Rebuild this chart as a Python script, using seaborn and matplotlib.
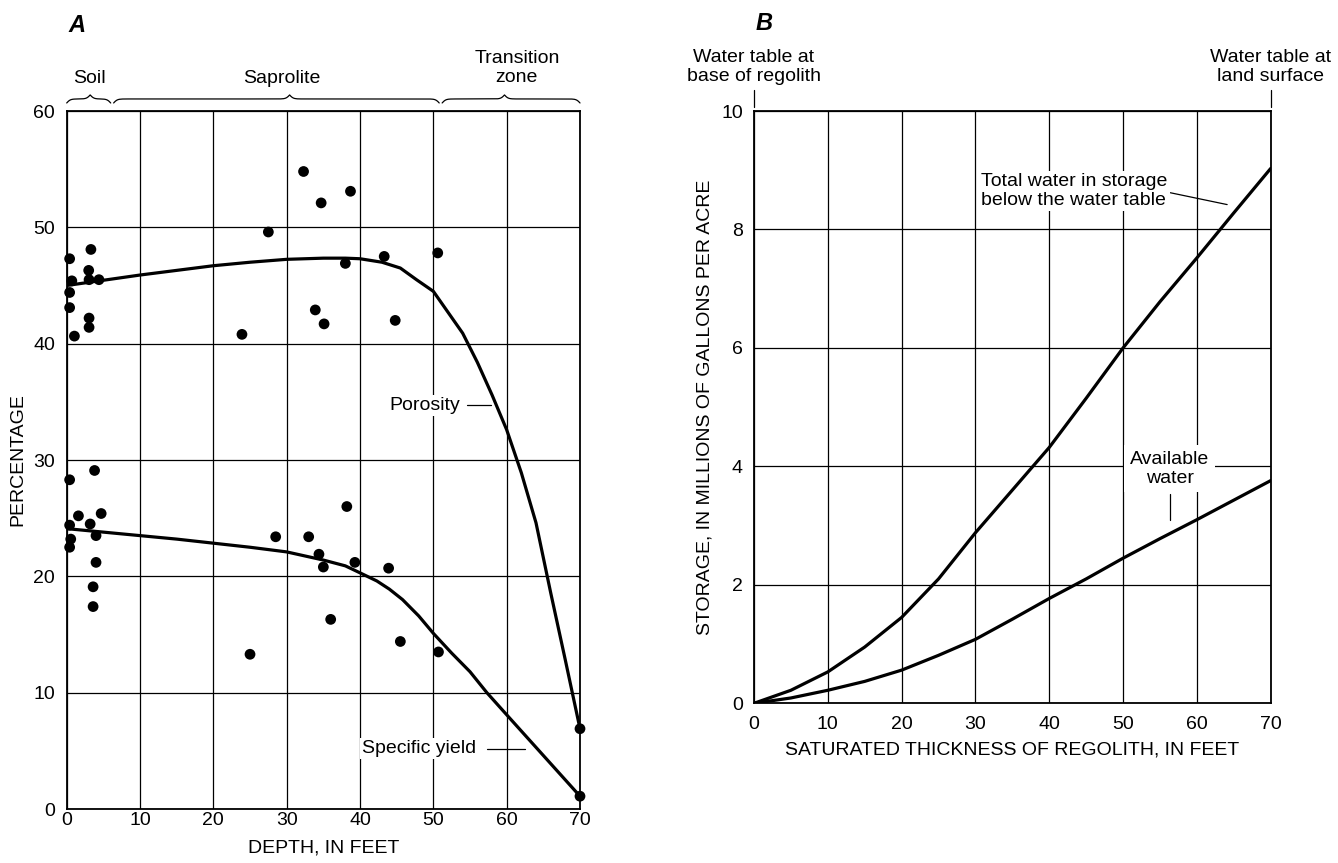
import numpy as np
import pandas as pd
import matplotlib
matplotlib.use("Agg")
import matplotlib.pyplot as plt
import matplotlib.transforms as mtransforms
import seaborn as sns

# ---------------- Panel A data ----------------
por_depth = [0.4, 3.3, 3.0, 0.7, 3.05, 4.4, 0.4, 0.4, 3.05, 3.05, 1.05, 23.9, 27.5,
             32.3, 34.7, 38.7, 33.9, 35.1, 38.0, 43.3, 44.8, 50.6, 70.0]
por_pct = [47.3, 48.1, 46.3, 45.4, 45.5, 45.5, 44.4, 43.1, 42.2, 41.4, 40.65, 40.8, 49.6,
           54.8, 52.1, 53.1, 42.9, 41.7, 46.9, 47.5, 42.0, 47.8, 6.9]

sy_depth = [0.4, 3.8, 1.6, 4.7, 0.4, 3.2, 4.0, 0.55, 0.4, 4.0, 3.6, 3.6, 25.0, 28.5,
            33.0, 38.2, 34.4, 35.0, 39.3, 43.9, 36.0, 45.5, 50.7, 70.0]
sy_pct = [28.3, 29.1, 25.2, 25.4, 24.4, 24.5, 23.5, 23.2, 22.5, 21.2, 19.1, 17.4, 13.3, 23.4,
          23.4, 26.0, 21.9, 20.8, 21.2, 20.7, 16.3, 14.4, 13.5, 1.1]

por_curve_depth = [0, 5, 10, 15, 20, 25, 30, 35, 38, 40, 43, 45.5, 47.7, 50, 52, 54, 56,
                   58, 60, 62, 64, 66, 68, 70]
por_curve_pct = [45.0, 45.45, 45.9, 46.3, 46.7, 47.0, 47.25, 47.35, 47.35, 47.3, 47.0, 46.5,
                 45.5, 44.5, 42.7, 40.9, 38.4, 35.6, 32.6, 28.9, 24.6, 18.6, 12.8, 6.9]

sy_curve_depth = [0, 5, 10, 15, 20, 25, 30, 35, 38, 40, 42.3, 44, 45.8, 48, 50, 52.5, 55,
                  57.3, 60, 65, 70]
sy_curve_pct = [24.1, 23.8, 23.5, 23.2, 22.85, 22.5, 22.1, 21.4, 20.9, 20.3, 19.6, 18.9,
                18.0, 16.6, 15.1, 13.4, 11.8, 10.0, 8.1, 4.6, 1.1]

depth_ticks = [0, 10, 20, 30, 40, 50, 60, 70]
pct_ticks = [0, 10, 20, 30, 40, 50, 60]

zone_names = ["Soil", "Saprolite", "Transition\nzone"]
zone_start = [0.0, 6.4, 51.2]
zone_tip = [3.2, 30.4, 59.7]
zone_end = [6.0, 50.8, 70.0]
zone_label_x = [3.1, 29.4, 61.4]

# ---------------- Panel B data ----------------
thick = [0, 5, 10, 15, 20, 25, 30, 35, 40, 45, 50, 55, 60, 65, 70]
total_storage = [0, 0.22, 0.53, 0.95, 1.45, 2.1, 2.88, 3.6, 4.32, 5.15, 6.0, 6.78, 7.52, 8.28, 9.03]
available_storage = [0, 0.09, 0.22, 0.37, 0.56, 0.81, 1.08, 1.42, 1.77, 2.1, 2.45, 2.78, 3.1, 3.43, 3.76]
thick_ticks = [0, 10, 20, 30, 40, 50, 60, 70]
storage_ticks = [0, 2, 4, 6, 8, 10]

# ---------------- Style ----------------
sns.set_style("white")
plt.rcParams['font.family'] = ['Liberation Sans', 'DejaVu Sans']
plt.rcParams['text.color'] = 'black'
plt.rcParams['axes.labelcolor'] = 'black'
plt.rcParams['xtick.color'] = 'black'
plt.rcParams['ytick.color'] = 'black'
plt.rcParams['axes.linewidth'] = 1.3
FS = 14
TFS = 14
LS = 1.17

W, H = 1338, 863
fig = plt.figure(figsize=(W / 100, H / 100), dpi=100)

axA = fig.add_axes([66.7 / W, 1 - 809 / H, (580 - 66.7) / W, (809 - 111) / H])
axB = fig.add_axes([754 / W, 1 - 703.3 / H, (1270.7 - 754) / W, (703.3 - 111) / H])

LINE_KW = dict(color='black', linewidth=2.3, estimator=None, sort=False)


def style_axes(ax, xticks, yticks, xpad, ypad):
    ax.set_axisbelow(True)
    ax.set_xticks(xticks)
    ax.set_yticks(yticks)
    ax.grid(True, color='black', linewidth=0.9)
    ax.tick_params(axis='both', length=0, labelsize=TFS, colors='black', labelcolor='black')
    ax.tick_params(axis='x', pad=xpad)
    ax.tick_params(axis='y', pad=ypad)
    for s in ax.spines.values():
        s.set_visible(True)
        s.set_color('black')
        s.set_linewidth(1.3)


# ---------------- Panel A ----------------
sns.lineplot(x=por_curve_depth, y=por_curve_pct, ax=axA, **LINE_KW)
sns.lineplot(x=sy_curve_depth, y=sy_curve_pct, ax=axA, **LINE_KW)
sns.scatterplot(x=por_depth, y=por_pct, ax=axA, color='black', s=60, edgecolor='none', zorder=4)
sns.scatterplot(x=sy_depth, y=sy_pct, ax=axA, color='black', s=60, edgecolor='none', zorder=4)
for c in axA.collections:
    c.set_clip_on(False)
axA.set_xlim(0, 70)
axA.set_ylim(0, 60)
style_axes(axA, depth_ticks, pct_ticks, xpad=2.5, ypad=8.5)
axA.set_xlabel("DEPTH, IN FEET", fontsize=FS, color='black')
axA.set_ylabel("PERCENTAGE", fontsize=FS, color='black')
axA.xaxis.set_label_coords(0.5, -0.056)
axA.xaxis.label.set_va('center')
axA.yaxis.set_label_coords(-0.095, 0.5)
axA.yaxis.label.set_va('center')

bbox_w = dict(facecolor='white', edgecolor='none', pad=1.5)
axA.text(53.6, 34.7, "Porosity", ha='right', va='center', fontsize=FS, bbox=bbox_w, zorder=3)
axA.plot([54.6, 57.8], [34.7, 34.7], color='black', lw=0.9)
axA.text(55.9, 5.2, "Specific yield", ha='right', va='center', fontsize=FS, bbox=bbox_w, zorder=3)
axA.plot([57.3, 62.5], [5.2, 5.2], color='black', lw=0.9)

# braces above panel A
transA = mtransforms.blended_transform_factory(axA.transData, axA.transAxes)


def brace_half(a, b, beta=4.0, n=120):
    x = np.linspace(a, b, n)
    v = 1 / (1 + np.exp(-beta * (x - a))) + 1 / (1 + np.exp(-beta * (x - b)))
    return x, v


for name, x0, xt, x1, lx in zip(zone_names, zone_start, zone_tip, zone_end, zone_label_x):
    xl, vl = brace_half(x0, xt)
    xr, vr = brace_half(xt, x1)
    vr = 2 - vr
    xs = np.concatenate([xl, xr])
    vs = np.concatenate([vl, vr])
    ys = 1.0115 + (vs - 0.5) * 0.0115
    axA.plot(xs, ys, color='black', lw=0.9, transform=transA, clip_on=False)
    ycen = 1.0616 if "\n" in name else 1.047
    axA.text(lx, ycen, name, transform=transA, ha='center', va='center',
             multialignment='center', fontsize=FS, linespacing=LS)

fig.text(77 / W, 1 - 25 / H, "A", fontsize=17, fontweight='bold', fontstyle='italic',
         ha='center', va='center')

# ---------------- Panel B ----------------
sns.lineplot(x=thick, y=total_storage, ax=axB, **LINE_KW)
sns.lineplot(x=thick, y=available_storage, ax=axB, **LINE_KW)
axB.set_xlim(0, 70)
axB.set_ylim(0, 10)
style_axes(axB, thick_ticks, storage_ticks, xpad=9.5, ypad=8)
axB.set_xlabel("SATURATED THICKNESS OF REGOLITH, IN FEET", fontsize=FS, color='black')
axB.set_ylabel("STORAGE, IN MILLIONS OF GALLONS PER ACRE", fontsize=FS, color='black')
axB.xaxis.set_label_coords(0.5, -0.0787)
axB.xaxis.label.set_va('center')
axB.yaxis.set_label_coords(-0.095, 0.5)
axB.yaxis.label.set_va('center')

axB.text(43.4, 8.65, "Total water in storage\nbelow the water table", ha='center', va='center',
         multialignment='left', fontsize=FS, bbox=bbox_w, zorder=3, linespacing=LS)
axB.plot([56.4, 64.1], [8.62, 8.42], color='black', lw=0.9)
axB.text(56.3, 3.96, "Available\nwater", ha='center', va='center', multialignment='center',
         fontsize=FS, bbox=dict(facecolor='white', edgecolor='none', pad=4), zorder=3,
         linespacing=LS)
axB.plot([56.3, 56.3], [3.54, 3.09], color='black', lw=0.9)

transB = mtransforms.blended_transform_factory(axB.transData, axB.transAxes)
for xv, lab in [(0, "Water table at\nbase of regolith"), (70, "Water table at\nland surface")]:
    axB.plot([xv, xv], [1.007, 1.036], color='black', lw=0.9, transform=transB, clip_on=False)
    axB.text(xv, 1.074, lab, transform=transB, ha='center', va='center', multialignment='center',
             fontsize=FS, linespacing=LS)

fig.text(764 / W, 1 - 23 / H, "B", fontsize=17, fontweight='bold', fontstyle='italic',
         ha='center', va='center')

fig.savefig("out.png", dpi=100, facecolor='white')
